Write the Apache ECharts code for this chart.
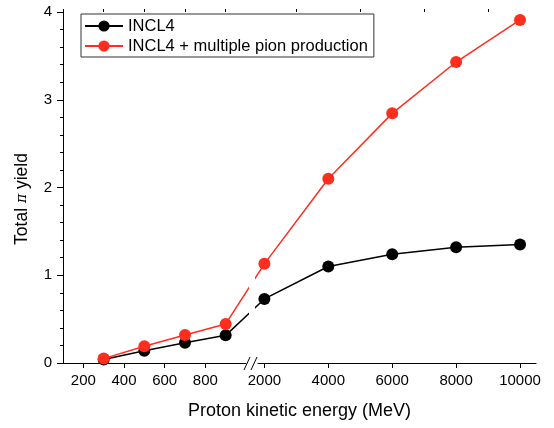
<!DOCTYPE html>
<html>
<head>
<meta charset="utf-8">
<script src="https://cdn.jsdelivr.net/npm/echarts@6/dist/echarts.min.js"></script>
<style>
  html, body { margin: 0; padding: 0; background: #fff; }
  #chart-container { width: 554px; height: 428px; }
</style>
</head>
<body>
<div id="chart-container"></div>
<script>
// 数据 (能量单位 MeV)
const energies = [300, 500, 700, 900, 2000, 4000, 6000, 8000, 10000];
const incl4 = [0.04, 0.14, 0.23, 0.315, 0.73, 1.10, 1.24, 1.32, 1.35];
const inclMultiPion = [0.05, 0.19, 0.32, 0.445, 1.13, 2.10, 2.845, 3.43, 3.91];

const leftMajorTicks = [200, 400, 600, 800];
const leftMinorTicks = [100, 300, 500, 700, 900];
const rightMajorTicks = [2000, 4000, 6000, 8000, 10000];
const rightMinorTicks = [3000, 5000, 7000, 9000];

const FONT = 'Liberation Sans, Arial, sans-serif';
const RED = '#ff2d1e';

// 断轴: 左段 100-1000, 右段 1800-10500
const leftRange = [100, 1000];
const rightRange = [1800, 10500];
const plotLeft = 63, plotTop = 12, plotHeight = 351;
const leftWidth = 183, rightLeft = 258, rightWidth = 278;
const totalWidth = rightLeft + rightWidth - plotLeft;

// 把真实能量映射到覆盖层的x轴
function brokenX(v) {
  if (v <= leftRange[1]) {
    return (v - leftRange[0]) * leftWidth / (leftRange[1] - leftRange[0]);
  }
  return (rightLeft - plotLeft) + (v - rightRange[0]) * rightWidth / (rightRange[1] - rightRange[0]);
}

const toPairs = ys => energies.map((e, i) => [brokenX(e), ys[i]]);

const hiddenAxis = {
  axisLine: { show: false },
  axisTick: { show: false },
  axisLabel: { show: false },
  splitLine: { show: false }
};

const majorX = (grid, range, ticks) => ({
  type: 'value',
  gridIndex: grid,
  min: range[0],
  max: range[1],
  splitLine: { show: false },
  axisLine: { lineStyle: { color: '#000', width: 1 } },
  axisTick: { customValues: ticks, length: 5, lineStyle: { color: '#000' } },
  axisLabel: {
    customValues: ticks, color: '#000', fontSize: 15, fontFamily: FONT, margin: 10,
    formatter: v => String(v)
  }
});

const minorX = (grid, range, ticks) => ({
  type: 'value',
  gridIndex: grid,
  min: range[0],
  max: range[1],
  splitLine: { show: false },
  axisLine: { show: false },
  axisTick: { customValues: ticks, length: 3, lineStyle: { color: '#000' } },
  axisLabel: { show: false }
});

const chartOption = {
  animation: false,
  backgroundColor: '#fff',
  grid: [
    { left: plotLeft, top: plotTop, width: leftWidth, height: plotHeight },
    { left: rightLeft, top: plotTop, width: rightWidth, height: plotHeight },
    { left: plotLeft, top: plotTop, width: totalWidth, height: plotHeight }
  ],
  xAxis: [
    majorX(0, leftRange, leftMajorTicks),
    minorX(0, leftRange, leftMinorTicks),
    majorX(1, rightRange, rightMajorTicks),
    minorX(1, rightRange, rightMinorTicks),
    Object.assign({
      type: 'value', gridIndex: 2, min: 0, max: totalWidth,
      name: 'Proton kinetic energy (MeV)',
      nameLocation: 'middle',
      nameGap: 39,
      nameTextStyle: { color: '#000', fontSize: 18, fontFamily: FONT }
    }, hiddenAxis)
  ],
  yAxis: [
    {
      type: 'value', gridIndex: 0, min: 0, max: 4, interval: 1,
      splitLine: { show: false },
      axisLine: { show: true, lineStyle: { color: '#000', width: 1 } },
      axisTick: { show: true, length: 6, lineStyle: { color: '#000' } },
      minorTick: { show: true, splitNumber: 5, length: 3, lineStyle: { color: '#000' } },
      axisLabel: { color: '#000', fontSize: 15, fontFamily: FONT, margin: 11 }
    },
    Object.assign({ type: 'value', gridIndex: 1, min: 0, max: 4 }, hiddenAxis),
    Object.assign({ type: 'value', gridIndex: 2, min: 0, max: 4 }, hiddenAxis)
  ],
  legend: {
    orient: 'vertical',
    left: 81,
    top: 14,
    padding: [3, 6, 2, 3],
    itemWidth: 38,
    itemHeight: 14,
    itemGap: 2,
    borderColor: '#333',
    borderWidth: 1,
    borderRadius: 0,
    textStyle: { color: '#000', fontSize: 16.5, lineHeight: 18, fontFamily: FONT },
    data: ['INCL4', 'INCL4 + multiple pion production']
  },
  series: [
    {
      name: 'INCL4',
      type: 'line',
      xAxisIndex: 4,
      yAxisIndex: 2,
      data: toPairs(incl4),
      symbol: 'circle',
      symbolSize: 12,
      color: '#000',
      lineStyle: { color: '#000', width: 1.5 },
      itemStyle: { color: '#000' },
      z: 2
    },
    {
      name: 'INCL4 + multiple pion production',
      type: 'line',
      xAxisIndex: 4,
      yAxisIndex: 2,
      data: toPairs(inclMultiPion),
      symbol: 'circle',
      symbolSize: 12,
      color: RED,
      lineStyle: { color: RED, width: 1.5 },
      itemStyle: { color: RED },
      z: 3
    }
  ],
  graphic: [
    // 断点处的空白
    { type: 'rect', shape: { x: 249, y: 200, width: 6, height: 160 }, style: { fill: '#fff' }, z: 100 },
    // 断轴符号 //
    { type: 'line', shape: { x1: 244, y1: 370, x2: 250, y2: 357 }, style: { stroke: '#000', lineWidth: 1 }, z: 101 },
    { type: 'line', shape: { x1: 251, y1: 370, x2: 257, y2: 357 }, style: { stroke: '#000', lineWidth: 1 }, z: 101 },
    {
      type: 'text',
      x: 22,
      y: 199,
      rotation: Math.PI / 2,
      style: {
        text: 'Total {pi|π} yield',
        fill: '#000',
        fontSize: 17.5,
        fontFamily: FONT,
        align: 'center',
        verticalAlign: 'middle',
        rich: {
          pi: { fontSize: 14, fontStyle: 'italic', fontFamily: 'DejaVu Serif, serif', fill: '#000' }
        }
      },
      z: 101
    }
  ]
};

const chartContainer = document.getElementById('chart-container');
const chart = echarts.init(chartContainer, null, { renderer: 'canvas' });
chart.setOption(chartOption);
</script>
</body>
</html>
